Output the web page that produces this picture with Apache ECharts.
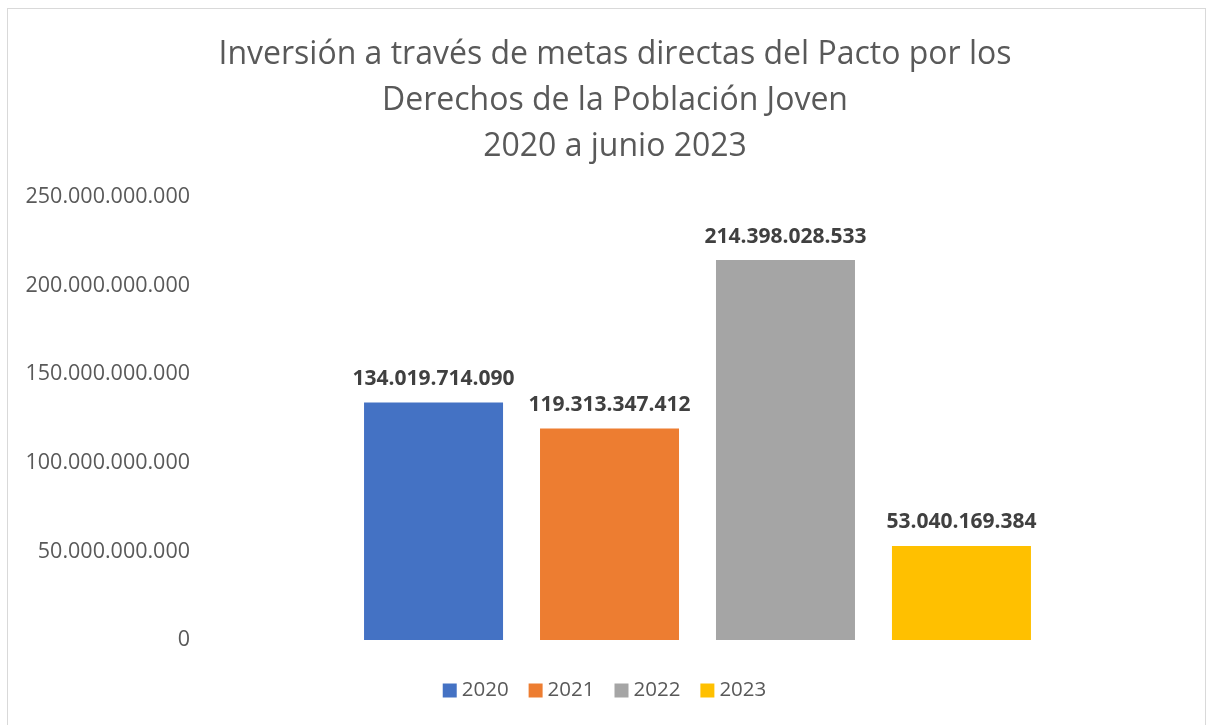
<!DOCTYPE html>
<html>
<head>
<meta charset="utf-8">
<script src="https://cdn.jsdelivr.net/npm/echarts@6/dist/echarts.min.js"></script>
<style>
  html, body { margin: 0; padding: 0; background: #fff; }
  #frame { position: absolute; left: 7px; top: 8px; width: 1199px; height: 730px; border: 1px solid #d9d9d9; box-sizing: border-box; }
  #chart { position: absolute; left: 0; top: 0; width: 1209px; height: 725px; }
</style>
</head>
<body>
<div id="frame"></div>
<div id="chart"></div>
<script>
  var years = ['2020', '2021', '2022', '2023'];
  var amounts = [134019714090, 119313347412, 214398028533, 53040169384];
  var colors = ['#4472C4', '#ED7D31', '#A5A5A5', '#FFC000'];
  var titleLines = [
    'Inversión a través de metas directas del Pacto por los',
    'Derechos de la Población Joven',
    '2020 a junio 2023'
  ];

  function fmt (v) {
    return String(Math.round(v)).replace(/\B(?=(\d{3})+(?!\d))/g, '.');
  }

  var myChart = echarts.init(document.getElementById('chart'));
  var series = years.map(function (y, i) {
    return {
      name: y,
      type: 'bar',
      data: [amounts[i]],
      barWidth: 139,
      barGap: '26.6%',
      itemStyle: { color: colors[i] },
      label: {
        show: true,
        position: 'top',
        distance: 13,
        color: '#404040',
        fontWeight: 'bold',
        fontSize: 21,
        fontFamily: 'Open Sans',
        formatter: function (p) { return fmt(p.value); }
      }
    };
  });

  myChart.setOption({
    animation: false,
    textStyle: { fontFamily: 'Open Sans' },
    title: {
      text: titleLines.join('\n'),
      left: 610,
      textAlign: 'center',
      top: 27,
      textStyle: {
        color: '#595959',
        fontSize: 32,
        fontWeight: 'normal',
        lineHeight: 46,
        fontFamily: 'Open Sans'
      }
    },
    legend: {
      data: years,
      bottom: 19,
      left: 'center',
      itemWidth: 14,
      itemHeight: 14,
      itemGap: 20,
      icon: 'rect',
      textStyle: { color: '#595959', fontSize: 20.5, fontFamily: 'Open Sans' }
    },
    grid: {
      left: 200,
      right: 14,
      top: 197,
      bottom: 85,
      containLabel: false
    },
    xAxis: {
      type: 'category',
      data: [''],
      axisLine: { show: false },
      axisTick: { show: false },
      axisLabel: { show: false }
    },
    yAxis: {
      type: 'value',
      min: 0,
      max: 250000000000,
      interval: 50000000000,
      splitLine: { show: false },
      axisLine: { show: false },
      axisTick: { show: false },
      axisLabel: {
        color: '#595959',
        fontSize: 21.5,
        margin: 10,
        fontFamily: 'Open Sans',
        formatter: function (v) { return fmt(v); }
      }
    },
    series: series
  });
</script>
</body>
</html>
